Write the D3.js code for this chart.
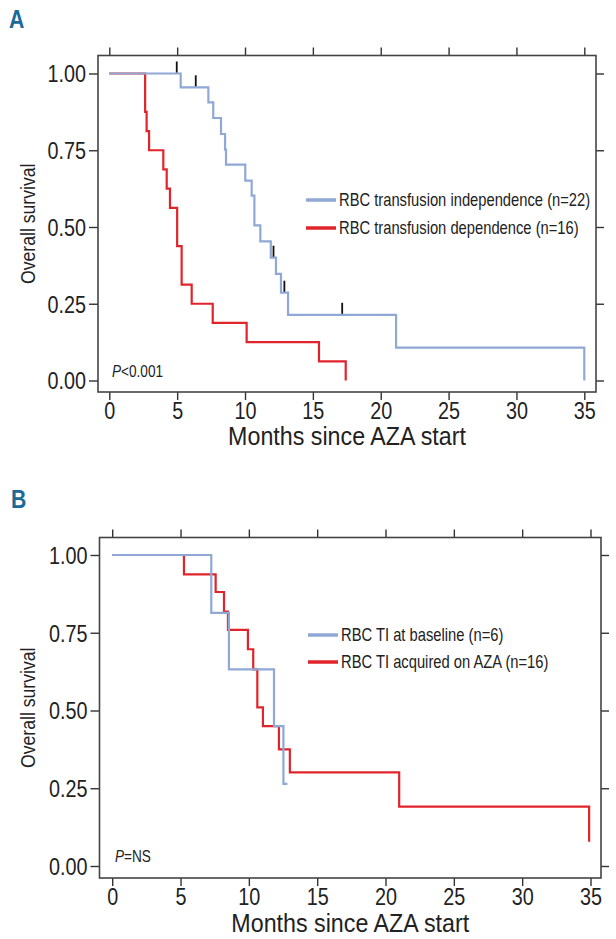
<!DOCTYPE html>
<html>
<head>
<meta charset="utf-8">
<script src="https://cdn.jsdelivr.net/npm/d3@7"></script>
<style>
  html, body { margin: 0; padding: 0; background: #fff; }
  svg { display: block; }
  text { font-family: "Liberation Sans", Arial, sans-serif; fill: #222; }
</style>
</head>
<body>
<svg id="chart" width="616" height="939"></svg>
<script>
// ---------------- DATA ----------------
const xTicks = [0, 5, 10, 15, 20, 25, 30, 35];
const yTicks = [0, 0.25, 0.5, 0.75, 1.0];
const xTitle = "Months since AZA start";
const yTitle = "Overall survival";

// Panel A
const aTimeIndep = [0, 5.26, 7.3, 7.66, 8.23, 8.53, 8.6, 10.02, 10.49, 10.69, 11.13, 11.9, 12.28, 12.65, 13.17, 21.13, 35.0];
const aSurvIndep = [1, 0.955, 0.906, 0.855, 0.803, 0.752, 0.703, 0.651, 0.602, 0.505, 0.453, 0.40, 0.347, 0.286, 0.214, 0.107, 0];
const aCensorTime = [4.97, 6.37, 12.1, 12.9, 17.16];
const aCensorSurv = [1.0, 0.955, 0.40, 0.286, 0.214];
const aTimeDep = [0, 2.64, 2.75, 2.93, 3.98, 4.23, 4.47, 5.0, 5.33, 6.07, 7.62, 10.12, 15.45, 17.42];
const aSurvDep = [1, 0.875, 0.8125, 0.75, 0.6875, 0.625, 0.5625, 0.4375, 0.3125, 0.25, 0.1875, 0.125, 0.0625, 0];
const aLegend = ["RBC transfusion independence (n=22)", "RBC transfusion dependence (n=16)"];
const aPText = "<0.001";

// Panel B
const bTimeBase = [0, 7.25, 8.54, 11.84, 12.53, 12.82];
const bSurvBase = [1, 0.814, 0.632, 0.45, 0.264, 0.264];
const bTimeAcq = [0, 5.25, 7.57, 8.18, 8.47, 9.93, 10.32, 10.62, 11.03, 12.2, 13.0, 21.0, 34.9];
const bSurvAcq = [1, 0.9375, 0.881, 0.818, 0.759, 0.697, 0.632, 0.51, 0.45, 0.375, 0.301, 0.191, 0.078];
const bLegend = ["RBC TI at baseline (n=6)", "RBC TI acquired on AZA (n=16)"];
const bPText = "=NS";

const BLUE = "#8fa8d6";
const RED = "#e1242b";

// ---------------- DRAW ----------------
const svg = d3.select("#chart");

function condense(sel, f) {
  sel.each(function () {
    const L = this.getComputedTextLength();
    d3.select(this).attr("textLength", L * f).attr("lengthAdjust", "spacingAndGlyphs");
  });
  return sel;
}

function panel(cfg) {
  const g = svg.append("g");
  const x = d3.scaleLinear().domain([0, 35]).range([cfg.x0, cfg.x35]);
  const y = d3.scaleLinear().domain([0, 1]).range([cfg.y0, cfg.y1]);
  const box = cfg.box;

  // panel letter
  condense(g.append("text").attr("x", cfg.letterX).attr("y", cfg.letterY)
    .text(cfg.letter)
    .style("font-size", "25px").style("font-weight", "bold").style("fill", "#1b6a98"), 0.85);

  // axes
  const fmt = d3.format(".2f");
  const axB = g.append("g").attr("transform", `translate(0,${box.bottom})`)
    .call(d3.axisBottom(x).tickValues(xTicks).tickSize(8).tickPadding(2).tickFormat(d3.format("d")));
  const axT = g.append("g").attr("transform", `translate(0,${box.top})`)
    .call(d3.axisTop(x).tickValues(xTicks).tickSize(8).tickFormat(""));
  const axL = g.append("g").attr("transform", `translate(${box.left},0)`)
    .call(d3.axisLeft(y).tickValues(yTicks).tickSize(9).tickPadding(3).tickFormat(fmt));
  const axR = g.append("g").attr("transform", `translate(${box.right},0)`)
    .call(d3.axisRight(y).tickValues(yTicks).tickSize(8).tickFormat(""));
  [axB, axT, axL, axR].forEach(a => {
    a.select(".domain").remove();
    a.selectAll(".tick line").attr("stroke", "#333").attr("stroke-width", 1.4);
    a.selectAll(".tick text").style("font-size", "23px").attr("fill", "#222")
      .style("font-family", '"Liberation Sans", Arial, sans-serif');
  });
  axB.selectAll(".tick text").attr("dy", "0.72em");
  axL.selectAll(".tick text").attr("dy", "0.36em");
  condense(axB.selectAll(".tick text"), 0.86);
  condense(axL.selectAll(".tick text"), 0.86);

  g.append("rect").attr("x", box.left).attr("y", box.top)
    .attr("width", box.right - box.left).attr("height", box.bottom - box.top)
    .attr("fill", "none").attr("stroke", "#444").attr("stroke-width", 1.6);

  // titles
  condense(g.append("text").attr("x", (box.left + box.right) / 2).attr("y", cfg.xTitleY)
    .attr("text-anchor", "middle").style("font-size", "25px").text(xTitle), 0.93);
  condense(g.append("text").attr("transform", `translate(${cfg.yTitleX},${(box.top + box.bottom) / 2}) rotate(-90)`)
    .attr("text-anchor", "middle").style("font-size", "21px").text(yTitle), 0.84);

  // curves
  const line = d3.line().x(d => x(d[0])).y(d => y(d[1])).curve(d3.curveStepAfter);
  cfg.series.forEach(s => {
    const pts = s.t.map((t, i) => [t, s.s[i]]);
    g.append("path").attr("d", line(pts)).attr("fill", "none")
      .attr("stroke", s.color).attr("stroke-width", s.w);
  });

  // censor ticks
  if (cfg.censT) {
    cfg.censT.forEach((t, i) => {
      g.append("line").attr("x1", x(t)).attr("x2", x(t))
        .attr("y1", y(cfg.censS[i]) - 1).attr("y2", y(cfg.censS[i]) - 12)
        .attr("stroke", "#111").attr("stroke-width", 1.8);
    });
  }

  // legend (condensed via transform)
  cfg.legend.forEach((lab, i) => {
    const ly = cfg.legY + i * cfg.legDy;
    g.append("line").attr("x1", cfg.legX).attr("x2", cfg.legX + 30)
      .attr("y1", ly).attr("y2", ly).attr("stroke", cfg.legColors[i]).attr("stroke-width", 3.5);
    g.append("text").attr("transform", `translate(${cfg.legX + 33},${ly}) scale(0.82,1)`)
      .attr("dy", "0.36em").style("font-size", "18px").text(lab);
  });

  // p-value
  const pt = g.append("text").attr("x", cfg.pX).attr("y", cfg.pY).style("font-size", "16px");
  pt.append("tspan").style("font-style", "italic").text("P");
  pt.append("tspan").text(cfg.pText);
  condense(pt, 0.85);
}

panel({
  letter: "A", letterX: 9, letterY: 28,
  x0: 109.3, x35: 584.3, y0: 380.5, y1: 73.5,
  box: { left: 98, right: 596, top: 55.5, bottom: 392 },
  xTitleY: 445, yTitleX: 35,
  series: [
    { t: aTimeDep, s: aSurvDep, color: RED, w: 2.2 },
    { t: aTimeIndep, s: aSurvIndep, color: BLUE, w: 2.2 }
  ],
  censT: aCensorTime, censS: aCensorSurv,
  legend: aLegend, legColors: [BLUE, RED], legX: 306, legY: 200, legDy: 28,
  pX: 112, pY: 377, pText: aPText
});

panel({
  letter: "B", letterX: 11, letterY: 508,
  x0: 112.2, x35: 590.5, y0: 866, y1: 555,
  box: { left: 99.5, right: 601, top: 537.5, bottom: 878 },
  xTitleY: 932, yTitleX: 35,
  series: [
    { t: bTimeAcq, s: bSurvAcq, color: RED, w: 2.2 },
    { t: bTimeBase, s: bSurvBase, color: BLUE, w: 2.2 }
  ],
  legend: bLegend, legColors: [BLUE, RED], legX: 308, legY: 635, legDy: 27,
  pX: 115, pY: 862, pText: bPText
});
</script>
</body>
</html>
